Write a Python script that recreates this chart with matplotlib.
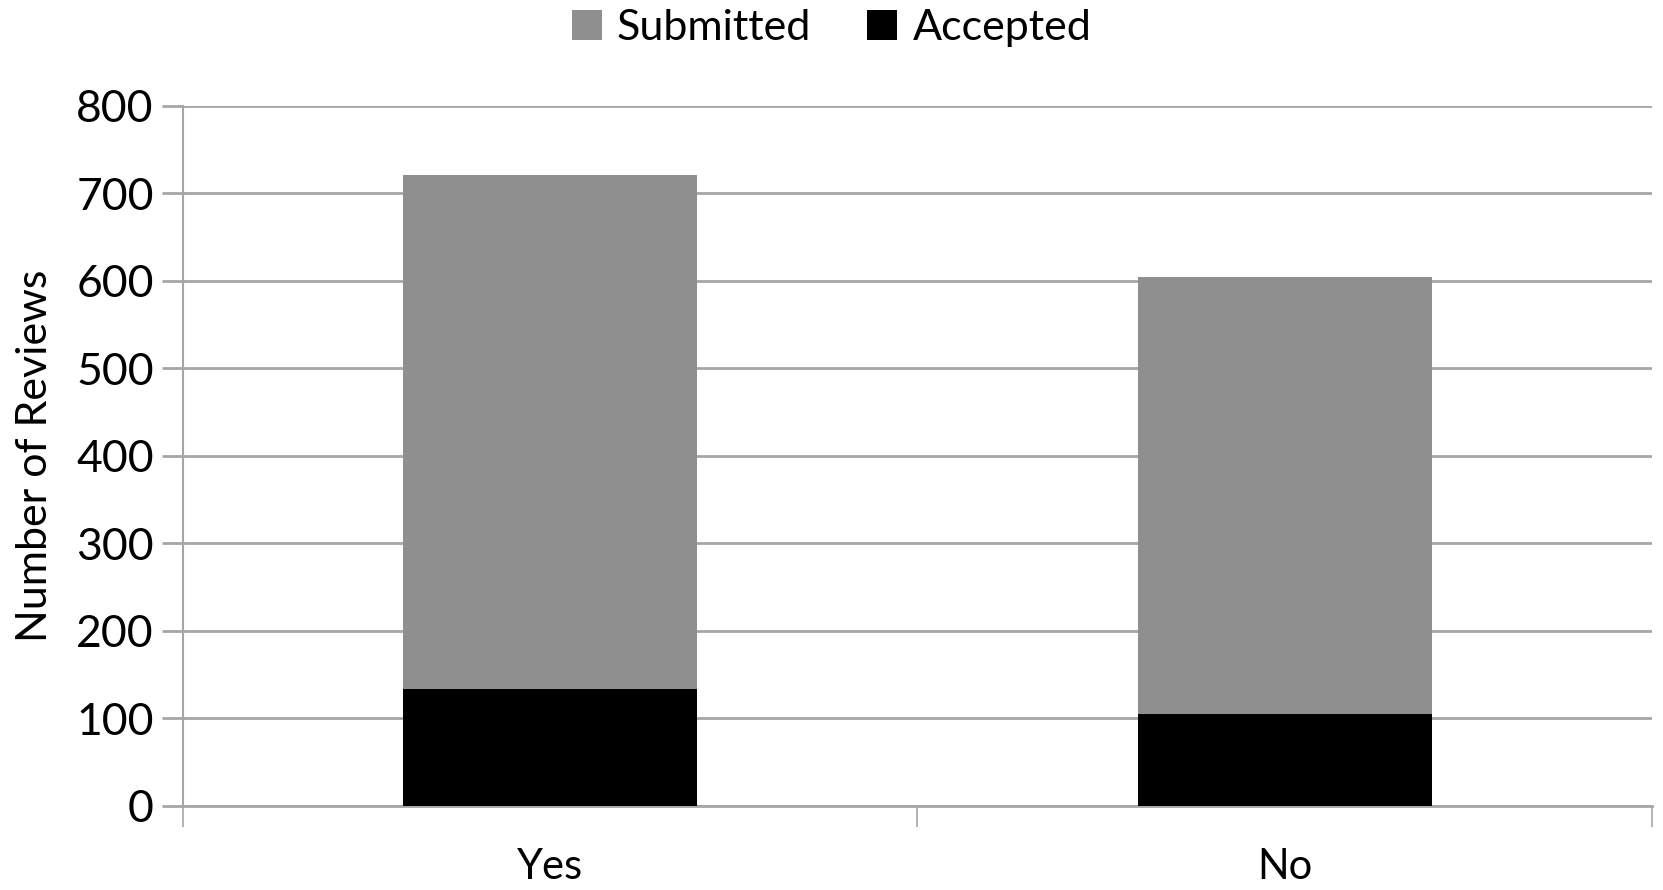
import matplotlib
matplotlib.use("Agg")
import matplotlib.pyplot as plt
import numpy as np
from matplotlib.patches import Patch

categories = ["Yes", "No"]
submitted = [721, 604]
accepted = [134, 105]
y_ticks = [0, 100, 200, 300, 400, 500, 600, 700, 800]

plt.rcParams['font.family'] = ['Lato', 'DejaVu Sans']
fig = plt.figure(figsize=(16.63, 8.9), dpi=100)
ax = fig.add_axes([0.110, 0.0944, 0.8834, 0.7866])

x = np.arange(len(categories))
ax.bar(x, submitted, width=0.4, color="#8f8f8f", zorder=2)
ax.bar(x, accepted, width=0.4, color="#000000", zorder=3)

ax.set_xlim(-0.5, len(categories) - 0.5)
ax.set_ylim(0, 800)
ax.set_yticks(y_ticks)
ax.set_yticklabels([str(v) for v in y_ticks], fontsize=32)
ax.yaxis.grid(True, color="#a6a6a6", linewidth=2, zorder=0)
ax.set_axisbelow(True)

ax.set_xticks(x)
ax.set_xticklabels(categories, fontsize=30)
ax.set_xticks(np.arange(-0.5, len(categories)), minor=True)
ax.tick_params(axis='x', which='major', length=0, pad=30)
ax.tick_params(axis='x', which='minor', length=15, width=1.2, color="#a6a6a6")
ax.tick_params(axis='y', length=15, width=2, color="#a6a6a6", pad=6)

for s in ["top", "right"]:
    ax.spines[s].set_visible(False)
ax.spines["left"].set_color("#a6a6a6")
ax.spines["left"].set_linewidth(1.5)
ax.spines["bottom"].set_color("#a6a6a6")
ax.spines["bottom"].set_linewidth(2)

ax.set_ylabel("Number of Reviews", fontsize=31)
ax.yaxis.set_label_coords(-0.088, 0.5)

handles = [Patch(facecolor="#8f8f8f", label="Submitted"),
           Patch(facecolor="#000000", label="Accepted")]
fig.legend(handles=handles, loc="center", bbox_to_anchor=(0.5, 0.968), ncol=2,
           frameon=False, fontsize=31, handlelength=0.7, handleheight=0.7,
           handletextpad=0.35, columnspacing=1.3)

fig.savefig("out.png", dpi=100)
